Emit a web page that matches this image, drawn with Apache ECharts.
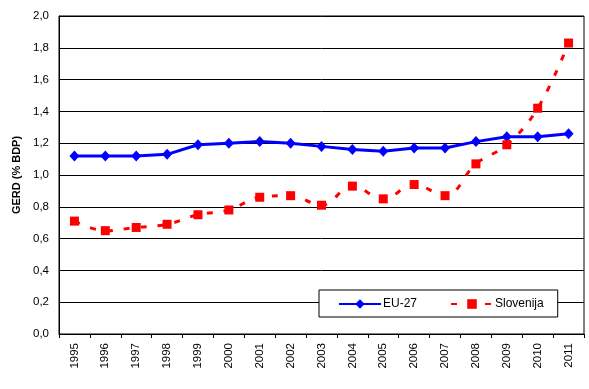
<!DOCTYPE html>
<html><head><meta charset="utf-8">
<script src="https://cdn.jsdelivr.net/npm/echarts@6/dist/echarts.min.js"></script>
<style>html,body{margin:0;padding:0;background:#fff}#c{width:589px;height:389px}</style>
</head><body><div id="c"></div>
<script>
var years = ['1995','1996','1997','1998','1999','2000','2001','2002','2003','2004','2005','2006','2007','2008','2009','2010','2011'];
var eu27 = [1.12,1.12,1.12,1.13,1.19,1.20,1.21,1.20,1.18,1.16,1.15,1.17,1.17,1.21,1.24,1.24,1.26];
var slovenija = [0.71,0.65,0.67,0.69,0.75,0.78,0.86,0.87,0.81,0.93,0.85,0.94,0.87,1.07,1.19,1.42,1.83];
var yTicks = {min:0, max:2, interval:0.2};
var font = 'Liberation Sans, Arial, sans-serif';
var chart = echarts.init(document.getElementById('c'));
chart.setOption({
  animation:false,
  textStyle:{fontFamily:font},
  grid:{left:59,right:5,top:16,bottom:55,show:true,borderColor:'#000',borderWidth:1},
  legend:{
    left:319, top:290,
    padding:[8,14,7,19],
    itemGap:33, itemWidth:42, itemHeight:12,
    backgroundColor:'#fff', borderColor:'#000', borderWidth:1,
    textStyle:{fontFamily:font,fontSize:12,color:'#000',padding:[0,0,0,-3]},
    data:['EU-27','Slovenija']
  },
  xAxis:{
    type:'category', data:years, boundaryGap:true,
    axisLine:{lineStyle:{color:'#000',width:1}},
    axisTick:{show:true,length:4,lineStyle:{color:'#000'}},
    axisLabel:{rotate:90,margin:9,fontSize:11.5,color:'#000',fontFamily:font}
  },
  yAxis:{
    type:'value', min:yTicks.min, max:yTicks.max, interval:yTicks.interval,
    name:'GERD (% BDP)', nameLocation:'middle', nameGap:33,
    nameTextStyle:{fontWeight:'bold',fontSize:11,color:'#000',fontFamily:font},
    axisLine:{show:true,lineStyle:{color:'#000'}},
    axisTick:{show:false},
    splitLine:{lineStyle:{color:'#000',width:1}},
    axisLabel:{margin:10,fontSize:11.5,color:'#000',fontFamily:font,
      formatter:function(v){return v.toFixed(1).replace('.',',');}}
  },
  series:[
    {name:'EU-27', type:'line', data:eu27, symbol:'diamond', symbolSize:[10,11],
     lineStyle:{color:'#0000FF',width:3}, itemStyle:{color:'#0000FF'}},
    {name:'Slovenija', type:'line', data:slovenija, smooth:0.4, symbol:'rect', symbolSize:9,
     lineStyle:{color:'#FF0000',width:3,type:[6,11]}, itemStyle:{color:'#FF0000'}}
  ]
});
</script></body></html>
